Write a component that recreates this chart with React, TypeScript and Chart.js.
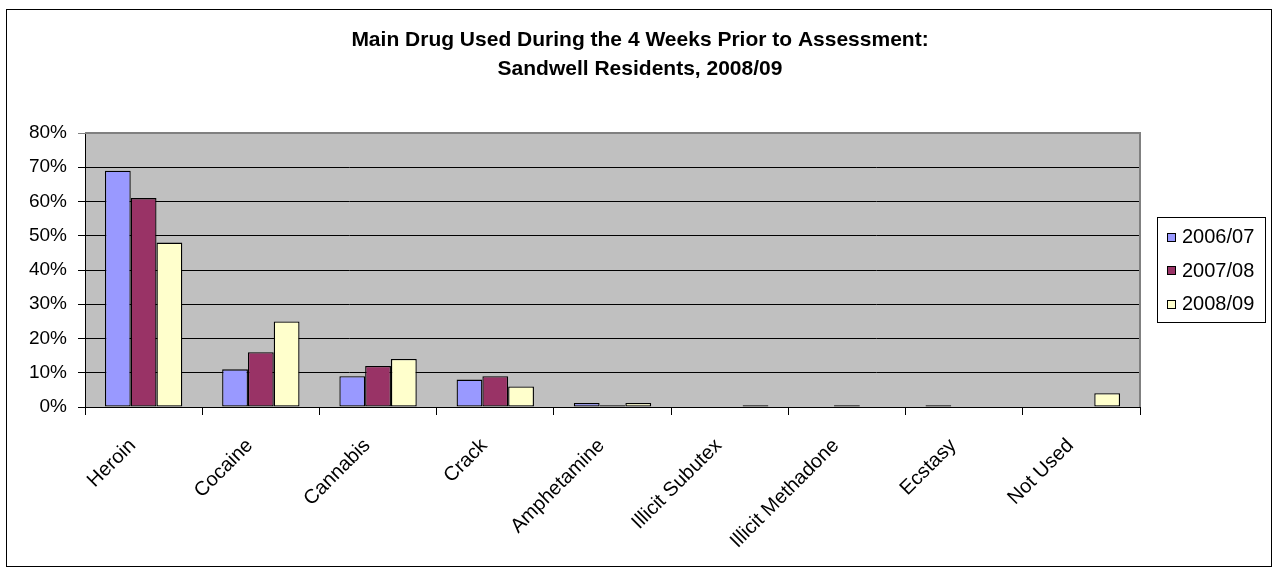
import React, { useEffect, useRef } from "react";
import { Chart, registerables } from "chart.js";

Chart.register(...registerables);

const TITLE_LINES = [
  "Main Drug Used During the 4 Weeks Prior to Assessment:",
  "Sandwell Residents, 2008/09",
];

const categories = [
  "Heroin",
  "Cocaine",
  "Cannabis",
  "Crack",
  "Amphetamine",
  "Illicit Subutex",
  "Illicit Methadone",
  "Ecstasy",
  "Not Used",
];

const seriesLabels = ["2006/07", "2007/08", "2008/09"];
const values2006 = [69, 11, 9, 8, 1.2, 0, 0, 0.5, 0];
const values2007 = [61, 16, 12, 9, 0.5, 0, 0.5, 0, 0];
const values2008 = [48, 25, 14, 6, 1.2, 0.5, 0, 0, 4];
const seriesColors = ["#9999FF", "#993366", "#FFFFCC"];

const yTicks = [0, 10, 20, 30, 40, 50, 60, 70, 80];

const FONT = "'Liberation Sans', Arial, Helvetica, sans-serif";
const W = 1278;
const H = 568;

// Background, outer frame, title, grey plot area and legend
const decorations = {
  id: "decorations",
  beforeDraw(chart: any) {
    const { ctx, chartArea } = chart;
    ctx.save();
    ctx.fillStyle = "#FFFFFF";
    ctx.fillRect(0, 0, W, H);
    ctx.strokeStyle = "#000000";
    ctx.lineWidth = 1;
    ctx.strokeRect(6.5, 9.5, 1265, 557);

    ctx.fillStyle = "#000000";
    ctx.font = `bold 21px ${FONT}`;
    ctx.textAlign = "center";
    ctx.textBaseline = "alphabetic";
    TITLE_LINES.forEach((line, i) => {
      ctx.fillText(line, 640, 46 + i * 28.5);
    });

    ctx.fillStyle = "#C0C0C0";
    ctx.fillRect(
      chartArea.left,
      chartArea.top,
      chartArea.right - chartArea.left,
      chartArea.bottom - chartArea.top
    );
    ctx.restore();
  },
  afterDraw(chart: any) {
    const { ctx, chartArea } = chart;
    ctx.save();
    // grey plot border on top and right
    ctx.strokeStyle = "#808080";
    ctx.lineWidth = 2;
    ctx.beginPath();
    ctx.moveTo(chartArea.left, chartArea.top);
    ctx.lineTo(chartArea.right, chartArea.top);
    ctx.lineTo(chartArea.right, chartArea.bottom);
    ctx.stroke();

    // legend box on the right
    const bx = 1157.5;
    const by = 217.5;
    const bw = 108;
    const bh = 105;
    ctx.fillStyle = "#FFFFFF";
    ctx.fillRect(bx, by, bw, bh);
    ctx.strokeStyle = "#000000";
    ctx.lineWidth = 1;
    ctx.strokeRect(bx, by, bw, bh);
    ctx.font = `20px ${FONT}`;
    ctx.textBaseline = "middle";
    ctx.textAlign = "left";
    chart.data.datasets.forEach((ds: any, i: number) => {
      const cy = by + 19 + i * 33.5;
      ctx.fillStyle = ds.backgroundColor;
      ctx.fillRect(1167, Math.round(cy - 4), 8, 8);
      ctx.strokeStyle = "#000000";
      ctx.strokeRect(1167.5, Math.round(cy - 4) + 0.5, 8, 8);
      ctx.fillStyle = "#000000";
      ctx.fillText(ds.label, 1182, cy + 1);
    });
    ctx.restore();
  },
};

export default function App() {
  const canvasRef = useRef<HTMLCanvasElement | null>(null);

  useEffect(() => {
    if (!canvasRef.current) return;
    const seriesValues = [values2006, values2007, values2008];
    const chart = new Chart(canvasRef.current, {
      type: "bar",
      data: {
        labels: categories,
        datasets: seriesLabels.map((label, i) => ({
          label,
          data: seriesValues[i],
          backgroundColor: seriesColors[i],
          borderColor: "#000000",
          borderWidth: 1.3,
          borderSkipped: false,
          categoryPercentage: 0.66,
          barPercentage: 1.0,
        })),
      },
      options: {
        responsive: false,
        animation: false,
        devicePixelRatio: 1,
        layout: { padding: { left: 0, right: 138, top: 133, bottom: 0 } },
        plugins: {
          legend: { display: false },
          tooltip: { enabled: false },
          title: { display: false },
        },
        scales: {
          x: {
            offset: true,
            grid: {
              offset: true,
              drawOnChartArea: false,
              drawTicks: true,
              tickLength: 8,
              color: "#000000",
            },
            border: { display: true, color: "#000000", width: 1 },
            ticks: {
              autoSkip: false,
              maxRotation: 45,
              minRotation: 45,
              labelOffset: -11,
              padding: 19,
              color: "#000000",
              font: { family: FONT, size: 20 },
            },
            afterFit(scale: any) {
              scale.height = H - 407;
            },
          },
          y: {
            min: 0,
            max: 80,
            afterBuildTicks(scale: any) {
              scale.ticks = yTicks.map((v) => ({ value: v }));
            },
            grid: {
              color: (c: any) => (c.tick && c.tick.value === 80 ? "#808080" : "#000000"),
              lineWidth: 1,
              drawTicks: true,
              tickLength: 7,
            },
            border: { display: true, color: "#000000", width: 1 },
            ticks: {
              padding: 11,
              color: "#000000",
              font: { family: FONT, size: 19 },
              callback: (v: any) => `${v}%`,
            },
            afterFit(scale: any) {
              scale.width = 85;
            },
          },
        },
      },
      plugins: [decorations],
    });
    return () => chart.destroy();
  }, []);

  return (
    <div style={{ position: "absolute", left: 0, top: 0, width: W, height: H }}>
      <canvas ref={canvasRef} width={W} height={H} style={{ display: "block" }} />
    </div>
  );
}
